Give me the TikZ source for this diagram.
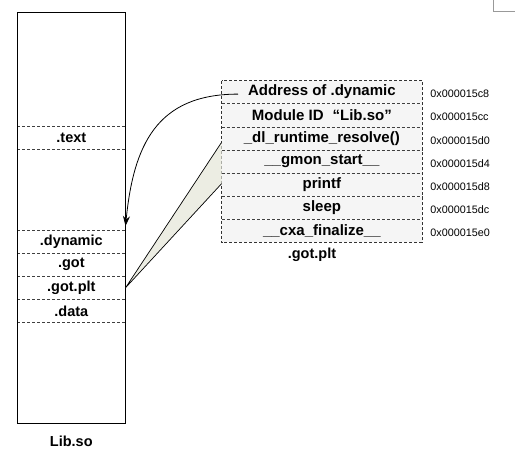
\documentclass[tikz,border=0pt]{standalone}
\usepackage{fontspec}
\setmainfont{Liberation Sans}
\usetikzlibrary{positioning,calc,arrows.meta}
\definecolor{wedgefill}{RGB}{236,237,227}
\definecolor{rowfill}{RGB}{245,245,245}
\tikzset{
  sec/.style={minimum width=108pt, minimum height=22.7pt, inner sep=0pt,
    font=\bfseries\fontsize{14.5}{16}\selectfont},
  ent/.style={minimum width=200.3pt, minimum height=22.76pt, inner sep=0pt,
    fill=rowfill, font=\bfseries\fontsize{15}{16}\selectfont},
  adr/.style={inner sep=0pt, yshift=-2pt, font=\fontsize{10.8}{12}\selectfont},
  sep/.style={dash pattern=on 3pt off 2pt, black!75, line width=0.6pt}
}

\begin{document}
\begin{tikzpicture}[x=1pt,y=-1pt]
\useasboundingbox (0,0) rectangle (515,456);
% Lib.so
\node[sec] (text) at (71.3,137.4) {.text};
\node[sec] (dyn) at (71.3,241.6) {.dynamic};
\node[sec,below=0pt of dyn] (got) {.got};
\node[sec,below=0pt of got] (gotplt) {.got.plt};
\node[sec,below=0pt of gotplt] (data) {.data};
\draw[sep] (text.north west) -- (text.north east);
\draw[sep] (text.south west) -- (text.south east);
\draw[sep] (dyn.north west) -- (dyn.north east);
\draw[sep] (got.north west) -- (got.north east);
\draw[sep] (gotplt.north west) -- (gotplt.north east);
\draw[sep] (data.north west) -- (data.north east);
\draw[sep] (data.south west) -- (data.south east);
\draw[line width=0.8pt] (17.3,12.7) rectangle (125.3,423.3);
\node[sec] (lib) at (71.3,441.7) {Lib.so};
% .got.plt
\node[ent] (r1) at (321.85,92.1) {Address of .dynamic};
\node[ent,below=0pt of r1] (r2) {Module ID\hspace{9pt}“Lib.so”\hspace{8pt}};
\node[ent,below=0pt of r2] (r3) {\_dl\_runtime\_resolve()};
\node[ent,below=0pt of r3] (r4) {\_\_gmon\_start\_\_};
\node[ent,below=0pt of r4] (r5) {printf};
\node[ent,below=0pt of r5] (r6) {sleep};
\node[ent,below=0pt of r6] (r7) {\_\_cxa\_finalize\_\_};
\draw[sep] (r1.south west) -- (r1.south east);
\draw[sep] (r2.south west) -- (r2.south east);
\draw[sep] (r3.south west) -- (r3.south east);
\draw[sep] (r4.south west) -- (r4.south east);
\draw[sep] (r5.south west) -- (r5.south east);
\draw[sep] (r6.south west) -- (r6.south east);
\draw[sep,black!80] (r1.north west) rectangle (r7.south east);
\node[sec] (plt) at (312,255) {.got.plt};
% addresses
\node[adr,right=8pt of r1,anchor=west] (a1) {0x000015c8};
\node[adr,right=8pt of r2,anchor=west] (a2) {0x000015cc};
\node[adr,right=8pt of r3,anchor=west] (a3) {0x000015d0};
\node[adr,right=8pt of r4,anchor=west] (a4) {0x000015d4};
\node[adr,right=8pt of r5,anchor=west] (a5) {0x000015d8};
\node[adr,right=8pt of r6,anchor=west] (a6) {0x000015dc};
\node[adr,right=8pt of r7,anchor=west] (a7) {0x000015e0};
% links
\coordinate (s1) at ($(r1.west)+(16.5,2)$);
\draw[line width=0.8pt,-{Stealth[length=10pt,width=7pt]}] (s1)
  .. controls +(-82,0) and +(8,-80) .. ([yshift=4pt]dyn.north east);
\coordinate (w1) at ([yshift=-4pt]r3.west);
\coordinate (w2) at ([yshift=1pt]r5.west);
\fill[wedgefill] (gotplt.east) -- (w1) -- (w2) -- cycle;
\draw[line width=0.7pt] (w1) -- (gotplt.east) -- (w2);
\draw[black!40,line width=0.8pt] (493.3,0) -- (493.3,11.3) -- (515,11.3);
\end{tikzpicture}
\end{document}
